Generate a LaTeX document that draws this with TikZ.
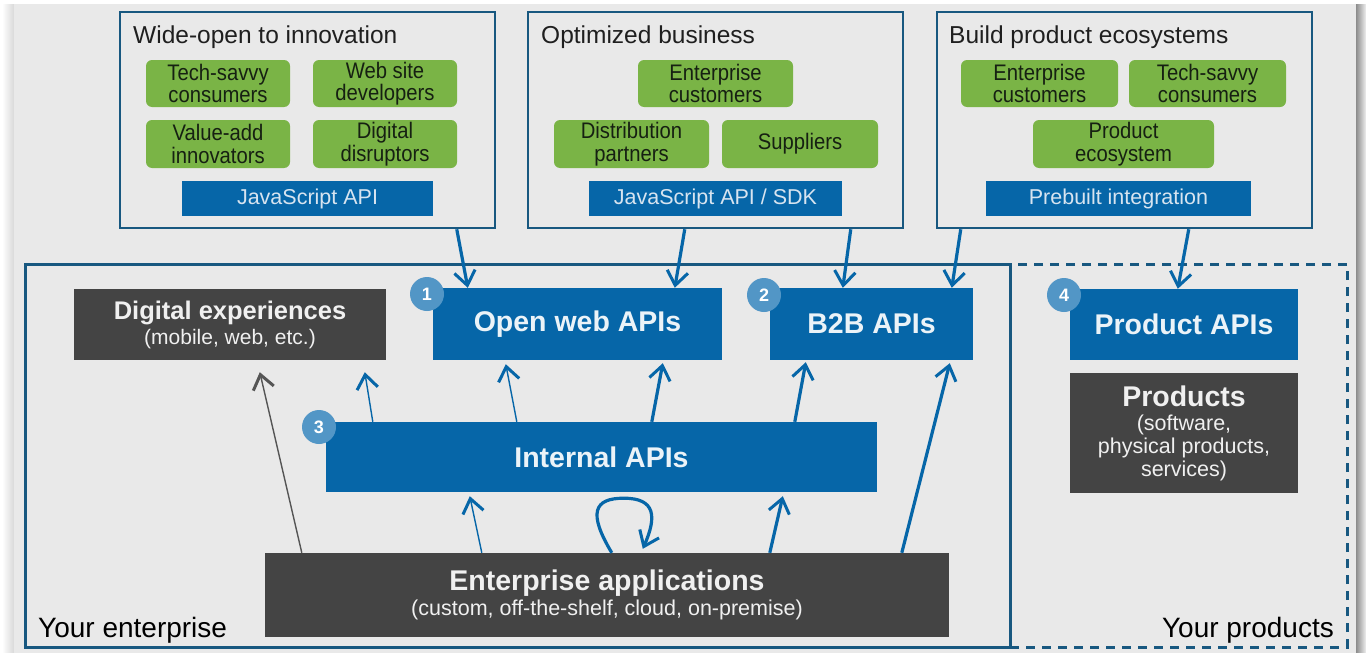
\documentclass[tikz,border=0pt]{standalone}
\usepackage{fontspec}
\setmainfont{Liberation Sans}
\newfontfamily\narrowsans{Liberation Sans}[FakeStretch=0.9]
\usetikzlibrary{arrows.meta,calc}
\definecolor{bg}{RGB}{233,233,233}
\definecolor{frame}{RGB}{24,88,128}
\definecolor{apiblue}{RGB}{6,102,168}
\definecolor{leaf}{RGB}{122,180,70}
\definecolor{leaftext}{RGB}{22,32,18}
\definecolor{dark}{RGB}{68,68,68}
\definecolor{badgeblue}{RGB}{82,150,198}
\definecolor{bartext}{RGB}{215,228,240}
\definecolor{greyarrow}{RGB}{85,85,85}
\newcommand\bx[7]{\node[#2,minimum width={#5-#3},minimum height={#6-#4}] (#1) at ({(#3+#5)/2},{(#4+#6)/2}) {#7};}
\tikzset{
 group/.style={draw=frame, line width=2.5pt, inner sep=0pt},
 leafbox/.style={fill=leaf, rounded corners=6pt, inner sep=0pt, align=center, text=leaftext, font=\narrowsans\fontsize{22.5}{22.5}\selectfont},
 bar/.style={fill=apiblue, inner sep=0pt, text=bartext, font=\fontsize{21.5}{22}\selectfont},
 api/.style={fill=apiblue, inner sep=0pt, text=white!92!apiblue, font=\bfseries\fontsize{28.5}{30}\selectfont},
 sys/.style={fill=dark, inner sep=0pt, text=white!92!dark, align=center},
 badge/.style={circle, fill=badgeblue, minimum size=34pt, inner sep=0pt, text=white, font=\bfseries\fontsize{18}{18}\selectfont},
 title/.style={anchor=base west, inner sep=0pt, font=\fontsize{24.5}{26}\selectfont, text=black!88},
 tipstyle/.style={-{Straight Barb[length=14pt,width=21pt,line width=3pt]}},
 link/.style={draw=apiblue, line width=3.2pt, tipstyle},
 thinlink/.style={draw=apiblue, line width=1.4pt, tipstyle},
 greylink/.style={draw=greyarrow, line width=1.4pt, tipstyle},
}
\begin{document}
\begin{tikzpicture}[x=1pt,y=-1pt]
\useasboundingbox (0,0) rectangle (1366,653);
% page background with shadows
\fill[white] (0,0) rectangle (1366,653);
\shade[left color=white, right color=black!15] (2,4) rectangle (14,653);
\fill[bg] (14,4) rectangle (1356,653);
\shade[left color=black!45, right color=black!6] (1356,4) rectangle (1366,653);

% regions
\node[draw=frame, line width=3pt, dash pattern=on 9pt off 7pt, inner sep=0pt, minimum width=337, minimum height=383] (prodzone) at (1178.5,455.5) {};
\bx{entzone}{draw=frame, line width=3pt, inner sep=0pt}{25}{264}{1010}{647}{}
\node[anchor=base west, inner sep=0pt, font=\fontsize{28}{30}\selectfont] (entlabel) at (38,637) {Your enterprise};
\node[anchor=base east, inner sep=0pt, font=\fontsize{28}{30}\selectfont] (prodlabel) at (1334,637) {Your products};

% top groups
\bx{g1}{group}{120}{12}{495}{228}{}
\bx{g2}{group}{528}{12}{903}{228}{}
\bx{g3}{group}{937}{12}{1312}{228}{}
\node[title] (t1) at (133,43) {Wide-open to innovation};
\node[title] (t2) at (541,43) {Optimized business};
\node[title] (t3) at (949,43) {Build product ecosystems};

\bx{c1}{leafbox}{146}{60}{290}{107}{Tech-savvy\\consumers}
\bx{c2}{leafbox}{313}{60}{457}{107}{Web site\\developers}
\bx{c3}{leafbox}{146}{120}{290}{168}{Value-add\\innovators}
\bx{c4}{leafbox}{313}{120}{457}{168}{Digital\\disruptors}
\bx{j1}{bar}{182}{181}{433}{216}{JavaScript API}

\bx{c5}{leafbox}{638}{60}{793}{107}{Enterprise\\customers}
\bx{c6}{leafbox}{554}{120}{709}{168}{Distribution\\partners}
\bx{c7}{leafbox}{722}{120}{878}{168}{Suppliers}
\bx{j2}{bar}{589}{181}{842}{216}{JavaScript API / SDK}

\bx{c8}{leafbox}{961}{60}{1118}{107}{Enterprise\\customers}
\bx{c9}{leafbox}{1129}{60}{1286}{107}{Tech-savvy\\consumers}
\bx{c10}{leafbox}{1033}{120}{1214}{168}{Product\\ecosystem}
\bx{j3}{bar}{986}{181}{1251}{216}{Prebuilt integration}

% lower nodes
\bx{dig}{sys,font=\fontsize{21}{25}\selectfont}{74}{289}{386}{360}{{\bfseries\fontsize{25.5}{26}\selectfont Digital experiences}\\(mobile, web, etc.)}
\bx{open}{api}{433}{288}{722}{360}{Open web APIs}
\bx{b2b}{api}{770}{288}{973}{360}{B2B APIs}
\bx{int}{api}{326}{422}{877}{492}{Internal APIs}
\bx{ent}{sys,font=\fontsize{21.5}{25}\selectfont}{265}{553}{949}{637}{{\bfseries\fontsize{28.5}{30}\selectfont Enterprise applications}\\(custom, off-the-shelf, cloud, on-premise)}
\bx{papi}{api}{1070}{289}{1298}{360}{Product APIs}
\bx{prods}{sys,font=\fontsize{21.5}{23}\selectfont}{1070}{373}{1298}{493}{{\bfseries\fontsize{28.5}{30}\selectfont Products}\\[1pt](software,\\physical products,\\services)}

% badges
\node[badge] (n1) at (427,294) {1};
\node[badge] (n2) at (764,295) {2};
\node[badge] (n3) at (319,427) {3};
\node[badge] (n4) at (1064,295) {4};

% top arrows
\draw[link] ([xshift=338pt]g1.south west) -- ([xshift=35pt]open.north west);
\draw[link] ([xshift=158pt]g2.south west) -- ([xshift=242pt]open.north west);
\draw[link] ([xshift=324pt]g2.south west) -- ([xshift=73pt]b2b.north west);
\draw[link] ([xshift=25pt]g3.south west) -- ([xshift=182pt]b2b.north west);
\draw[link] ([xshift=253pt]g3.south west) -- ([xshift=108pt]papi.north west);

% lower arrows
\draw[greylink] ([xshift=37pt]ent.north west) -- ([xshift=186pt,yshift=-12pt]dig.south west);
\draw[thinlink] ([xshift=47pt]int.north west) -- ([xshift=291pt,yshift=-12pt]dig.south west);
\draw[thinlink] ([xshift=191pt]int.north west) -- ([xshift=73pt,yshift=-4pt]open.south west);
\draw[link] ([xshift=326pt]int.north west) -- ([xshift=230pt,yshift=-3pt]open.south west);
\draw[link] ([xshift=469pt]int.north west) -- ([xshift=36pt,yshift=-2pt]b2b.south west);
\draw[thinlink] ([xshift=217pt]ent.north west) -- ([xshift=144pt,yshift=-4pt]int.south west);
\draw[link] ([xshift=505pt]ent.north west) -- ([xshift=457pt,yshift=-4pt]int.south west);
\draw[link] ([xshift=637pt]ent.north west) -- ([xshift=180pt,yshift=-3pt]b2b.south west);
\draw[link] ([xshift=347pt]ent.north west) .. controls +(-24,-40) and +(-30,0) .. ([xshift=298pt,yshift=-6pt]int.south west) .. controls +(32,0) and +(14,-32) .. ([xshift=378pt,yshift=4pt]ent.north west);
\end{tikzpicture}
\end{document}
